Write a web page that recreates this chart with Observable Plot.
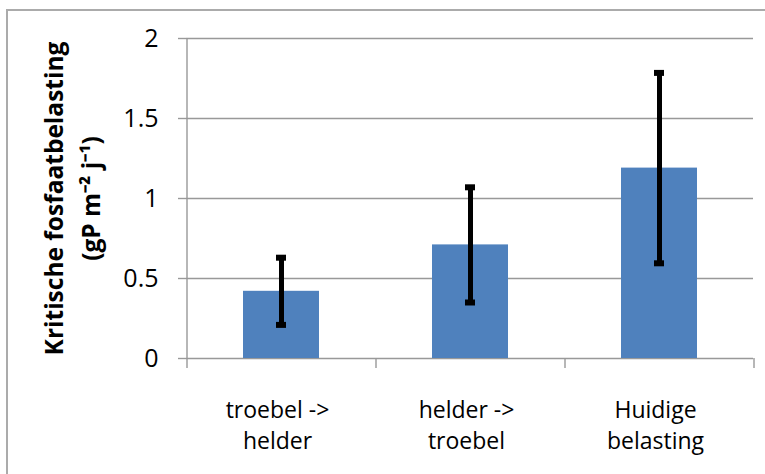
<!DOCTYPE html>
<html>
<head>
<meta charset="utf-8">
<script src="https://cdn.jsdelivr.net/npm/d3@7"></script>
<script src="https://cdn.jsdelivr.net/npm/@observablehq/plot@0.6"></script>
<style>
  html, body { margin: 0; padding: 0; background: #fff; }
  #chart { position: relative; width: 765px; height: 474px; overflow: hidden; }
  #chart .border { position: absolute; left: 6px; top: 9px; right: -4px; bottom: -4px;
    border-left: 2px solid #ababab; border-top: 2px solid #ababab; }
  #chart svg { position: absolute; left: 0; top: 0; }
</style>
</head>
<body>
<div id="chart"><div class="border"></div></div>
<script>
// Critical phosphate loading per transition, with error margins
const categories = ["troebel ->\nhelder", "helder ->\ntroebel", "Huidige\nbelasting"];
const values = [0.42, 0.71, 1.19];
const errors = [0.21, 0.36, 0.595];
const yTicks = [0, 0.5, 1, 1.5, 2];
const yTitle = ["Kritische fosfaatbelasting", "(gP m⁻² j⁻¹)"];

const data = categories.map((cat, i) => ({
  cat, value: values[i], lo: values[i] - errors[i], hi: values[i] + errors[i]
}));

const W = 765, H = 474;
const margin = {left: 186, right: 12, top: 38, bottom: 116};
const step = (W - margin.left - margin.right) / categories.length;
const tickLen = 10 * 2 / (H - margin.top - margin.bottom); // 10px below the baseline, in data units
const axisColor = "#999999";
const font = "'Open Sans', sans-serif";

const chart = Plot.plot({
  width: W,
  height: H,
  marginLeft: margin.left,
  marginRight: margin.right,
  marginTop: margin.top,
  marginBottom: margin.bottom,
  style: {fontFamily: font, fontSize: "23px", color: "#000", background: "transparent"},
  x: {domain: categories, paddingInner: 0.6, paddingOuter: 0.3},
  y: {domain: [0, 2]},
  marks: [
    Plot.gridY(yTicks, {stroke: axisColor, strokeOpacity: 1, strokeWidth: 1.4}),
    Plot.axisY(yTicks, {tickSize: 8, tickPadding: 20, stroke: axisColor, strokeWidth: 1.4,
      tickFormat: d => String(d), fontSize: 25, label: null}),
    // vertical axis line
    Plot.ruleX(categories.slice(0, 1), {x: d => d, dx: -step / 2, y1: -tickLen, y2: 2,
      stroke: axisColor, strokeWidth: 1.4}),
    // category separator ticks below the baseline
    Plot.ruleX(categories, {x: d => d, dx: step / 2, y1: -tickLen, y2: 0,
      stroke: axisColor, strokeWidth: 1.4}),
    Plot.barY(data, {x: "cat", y: "value", fill: "#4F81BD"}),
    Plot.ruleX(data, {x: "cat", y1: "lo", y2: "hi", stroke: "#000", strokeWidth: 5}),
    Plot.tickY(data, {x: "cat", y: "hi", stroke: "#000", strokeWidth: 6, insetLeft: 33, insetRight: 33}),
    Plot.tickY(data, {x: "cat", y: "lo", stroke: "#000", strokeWidth: 6, insetLeft: 33, insetRight: 33}),
    Plot.axisX({tickSize: 0, tickPadding: 38, fontSize: 23, lineHeight: 1.33, dx: -4, label: null}),
    Plot.text([yTitle[0]], {frameAnchor: "left", text: d => d, rotate: -90, dx: -131,
      textAnchor: "middle", lineAnchor: "middle", fontWeight: "bold", fontSize: 24.5}),
    Plot.text([yTitle[1]], {frameAnchor: "left", text: d => d, rotate: -90, dx: -94,
      textAnchor: "middle", lineAnchor: "middle", fontWeight: "bold", fontSize: 24.5})
  ]
});

document.getElementById("chart").appendChild(chart);
</script>
</body>
</html>
